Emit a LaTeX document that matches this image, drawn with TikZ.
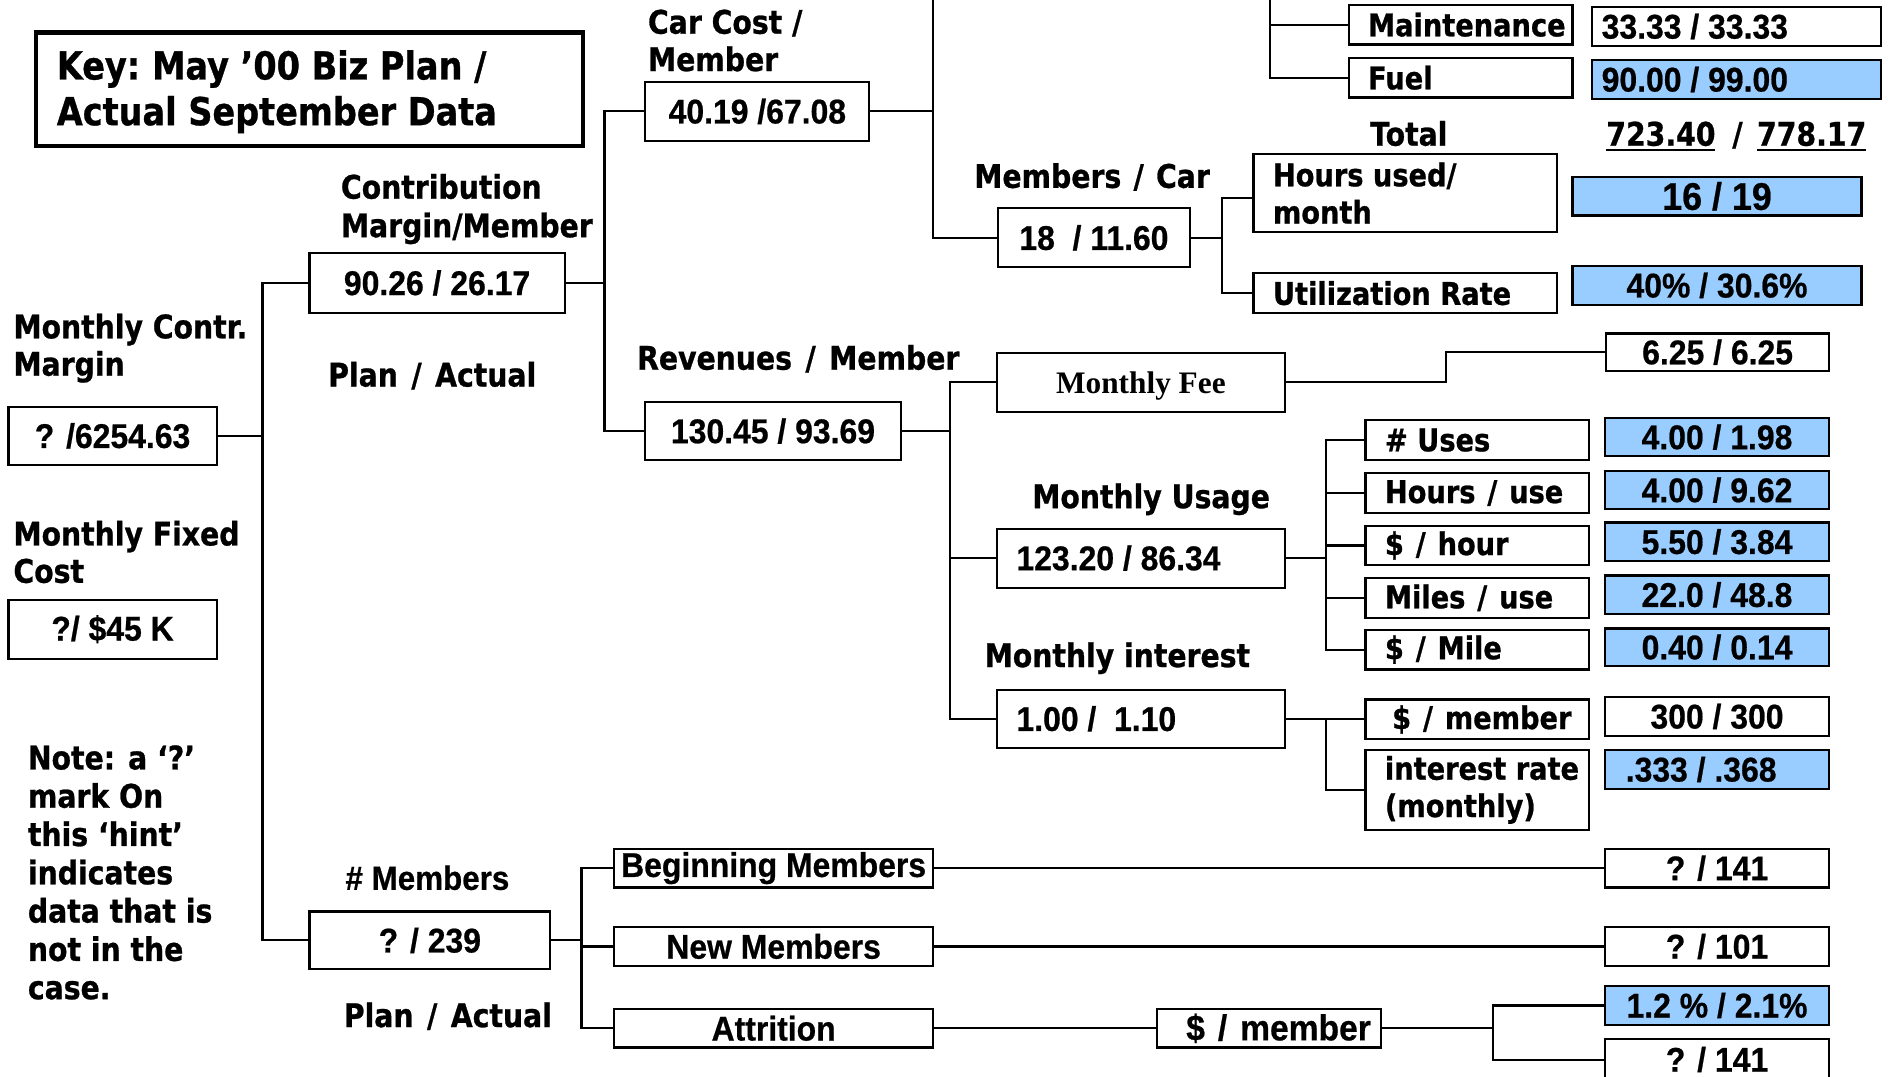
\documentclass[tikz,border=0pt]{standalone}
\usepackage{fontspec}
\newfontfamily\labf{DejaVu Sans Bold}[FakeStretch=0.87,FakeBold=0.8]
\newfontfamily\numf{Liberation Sans Bold}[FakeStretch=0.93,FakeBold=0.6]
\newfontfamily\timf{Liberation Serif Bold}
\definecolor{cellblue}{RGB}{153,204,255}
\newcommand\myul[1]{\leavevmode\vtop{\hbox{#1}\kern2pt\hrule height 1.8pt}}
% centred box: name x1 y1 x2 y2 styles text
\newcommand\cbox[7]{%
 \pgfmathsetmacro\cx{(#2+#4)/2}\pgfmathsetmacro\cy{(#3+#5)/2}%
 \pgfmathsetmacro\ww{#4-#2}\pgfmathsetmacro\hh{#5-#3}%
 \node[bx,minimum width=\ww pt,minimum height=\hh pt,#6] (#1) at (\cx,\cy) {#7};}
% left box: name x1 y1 x2 y2 pad boxstyle fontstyle text
\newcommand\lbox[9]{%
 \pgfmathsetmacro\cx{(#2+#4)/2}\pgfmathsetmacro\cy{(#3+#5)/2}%
 \pgfmathsetmacro\ww{#4-#2}\pgfmathsetmacro\hh{#5-#3}%
 \node[bx,minimum width=\ww pt,minimum height=\hh pt,#7] (#1) at (\cx,\cy) {};
 \node[anchor=west,inner sep=0pt,align=left,#8] (#1-t) at ([xshift=#6pt]#1.west) {#9};}
\begin{document}
\begin{tikzpicture}[x=1pt,y=-1pt,
  bx/.style={draw,line width=1.8pt,inner sep=0pt,outer sep=0pt,rectangle},
  keybox/.style={draw,line width=3.4pt,inner sep=0pt,rectangle},
  conn/.style={line width=1.8pt},
  blue/.style={fill=cellblue},
  lab/.style={font=\labf\fontsize{27}{31.8}\selectfont,inner sep=0pt},
  blab/.style={font=\labf\fontsize{26}{31}\selectfont},
  keyf/.style={font=\labf\fontsize{32}{38}\selectfont,inner sep=0pt},
  num/.style={font=\numf\fontsize{28.5}{32}\selectfont},
  bignum/.style={font=\numf\fontsize{32}{36}\selectfont},
  bnum/.style={font=\numf\fontsize{30}{34}\selectfont},
  tim/.style={font=\timf\fontsize{26}{30}\selectfont},
  numlab/.style={font=\numf\fontsize{28}{32}\selectfont,inner sep=0pt}
]
\fill[white] (0,0) rectangle (1568,894);
\useasboundingbox (0,0) rectangle (1568,894);

% key
\node[keybox,minimum width=454pt,minimum height=94pt] (key) at (257,74) {};
\node[keyf,anchor=base west] (key1) at (47,66) {Key:\hspace{-3pt} May ’00 Biz Plan /};
\node[keyf,anchor=base west] (key2) at (47,104) {Actual September Data};

% free labels
\node[lab,anchor=base west] (cm1) at (283,165) {Contribution};
\node[lab,anchor=base west] (cm2) at (283,197) {Margin/Member};
\node[lab,anchor=base west] (cc1) at (538,28) {Car Cost /};
\node[lab,anchor=base west] (cc2) at (538,59) {Member};
\node[lab,anchor=base west] (mc1) at (11,281) {Monthly Contr.};
\node[lab,anchor=base west] (mc2) at (11,312) {Margin};
\node[lab,anchor=base west] (mf1) at (11,453) {Monthly Fixed};
\node[lab,anchor=base west] (mf2) at (11,484) {Cost};
\node[lab,anchor=base] (pa1) at (359,321) {Plan\hspace{3pt} /\hspace{3pt} Actual};
\node[lab,anchor=base] (revl) at (663,307) {Revenues\hspace{3pt} /\hspace{3pt} Member};
\node[lab,anchor=base] (mpcl) at (907,156) {Members\hspace{2pt} /\hspace{2pt} Car};
\node[lab,anchor=base] (totl) at (1170,121) {Total};
\node[lab,anchor=base] (totv) at (1442,121) {\myul{723.40}\hspace{14pt}/\hspace{12pt}\myul{778.17}};
\node[lab,anchor=base] (usel) at (956,422) {Monthly Usage};
\node[lab,anchor=base] (intl) at (928,554) {Monthly interest};
\node[numlab,anchor=base] (nml) at (355,739) {\# Members};
\node[lab,anchor=base] (pa2) at (372,853) {Plan\hspace{3pt} /\hspace{3pt} Actual};
\foreach \t [count=\i] in {Note: a ‘?’,mark On,this ‘hint’,indicates,data that is,not in the,case.}
  \node[lab,anchor=base west] (note\i) at (23,{639+31.8*(\i-1)}) {\t};

% boxes
\cbox{mcm}{7}{338}{180}{386}{num}{? /6254.63}
\cbox{mfc}{7}{498}{180}{547}{num}{?/ \$45 K}
\cbox{cmm}{257}{210}{469}{260}{num}{90.26 / 26.17}
\cbox{carcost}{536}{68}{722}{117}{num}{40.19 /67.08}
\cbox{mpc}{829}{173}{988}{222}{num}{18\ \ / 11.60}
\lbox{maint}{1120}{4}{1306}{37}{16}{}{blab}{Maintenance}
\lbox{fuel}{1120}{48}{1306}{81}{16}{}{blab}{Fuel}
\lbox{maintv}{1322}{6}{1562}{38}{8}{}{num}{33.33 / 33.33}
\lbox{fuelv}{1322}{50}{1562}{82}{8}{blue}{num}{90.00 / 99.00}
\lbox{hours}{1041}{128}{1293}{193}{16}{}{blab}{Hours used/\\month}
\lbox{util}{1041}{227}{1293}{260}{16}{}{blab}{Utilization Rate}
\cbox{hoursv}{1306}{147}{1546}{179}{bignum,blue}{16 / 19}
\cbox{utilv}{1306}{221}{1546}{253}{num,blue}{40\% / 30.6\%}
\cbox{rev}{536}{334}{748}{382}{num}{130.45 / 93.69}
\cbox{fee}{828}{293}{1067}{342}{tim,text depth=0pt}{Monthly Fee}
\cbox{feev}{1334}{277}{1519}{308}{num}{6.25 / 6.25}
\lbox{usage}{828}{439}{1067}{488}{16}{}{num}{123.20 / 86.34}
\lbox{uses}{1134}{349}{1320}{382}{16}{}{blab}{\# Uses}
\lbox{hpu}{1134}{393}{1320}{426}{16}{}{blab}{Hours\hspace{2pt} /\hspace{2pt} use}
\lbox{dph}{1134}{437}{1320}{469}{16}{}{blab}{\$\hspace{2pt} /\hspace{2pt} hour}
\lbox{mpu}{1134}{480}{1320}{513}{16}{}{blab}{Miles\hspace{2pt} /\hspace{2pt} use}
\lbox{dpm}{1134}{523}{1320}{556}{16}{}{blab}{\$\hspace{2pt} /\hspace{2pt} Mile}
\cbox{usesv}{1333}{347}{1519}{379}{num,blue}{4.00 / 1.98}
\cbox{hpuv}{1333}{391}{1519}{423}{num,blue}{4.00 / 9.62}
\cbox{dphv}{1333}{434}{1519}{466}{num,blue}{5.50 / 3.84}
\cbox{mpuv}{1333}{478}{1519}{510}{num,blue}{22.0 / 48.8}
\cbox{dpmv}{1333}{522}{1519}{553}{num,blue}{0.40 / 0.14}
\lbox{intr}{828}{573}{1067}{621}{16}{}{num}{1.00 /\ \ 1.10}
\lbox{permem}{1134}{581}{1320}{614}{22}{}{blab}{\$\hspace{2pt} /\hspace{2pt} member}
\lbox{rate}{1134}{623}{1320}{689}{16}{}{blab}{interest rate\\(monthly)}
\cbox{permemv}{1333}{579}{1519}{611}{num}{300 / 300}
\lbox{ratev}{1333}{623}{1519}{655}{17}{blue}{num}{.333 / .368}
\cbox{nmem}{257}{757}{457}{805}{num}{? / 239}
\cbox{beg}{510}{705}{775}{737}{num}{Beginning Members}
\cbox{newm}{510}{770}{775}{802}{num}{New Members}
\cbox{attr}{510}{838}{775}{870}{num}{Attrition}
\cbox{begv}{1333}{705}{1519}{737}{num}{? / 141}
\cbox{newmv}{1333}{770}{1519}{802}{num}{? / 101}
\lbox{attrm}{961}{838}{1147}{870}{24}{}{bnum}{\$\hspace{3pt} /\hspace{3pt} member}
\cbox{attrv1}{1333}{819}{1519}{851}{num,blue}{1.2 \% / 2.1\%}
\cbox{attrv2}{1333}{863}{1519}{897}{num}{? / 141}

% spines
\coordinate (s1) at (218,0);
\coordinate (s2) at (502,0);
\coordinate (s3) at (775,-8);
\coordinate (s4) at (1015,0);
\coordinate (s5) at (1055,-8);
\coordinate (s6) at (789,0);
\coordinate (s7) at (1201,0);
\coordinate (s8) at (1101,0);
\coordinate (s9) at (483,0);
\coordinate (s10) at (1240,0);

% connectors
\draw[conn] (mcm.east) -- (mcm.east -| s1);
\draw[conn] (cmm.west) -- (cmm.west -| s1) |- (nmem.west);
\draw[conn] (cmm.east) -- (cmm.east -| s2);
\draw[conn] (carcost.west) -- (carcost.west -| s2) |- (rev.west);
\draw[conn] (carcost.east) -- (carcost.east -| s3);
\draw[conn] (s3) |- (mpc.west);
\draw[conn] (mpc.east) -- (mpc.east -| s4);
\draw[conn] ([yshift=-4pt]hours.west) -- ([yshift=-4pt]hours.west -| s4) |- (util.west);
\draw[conn] (s5) |- (fuel.west);
\draw[conn] (maint.west) -- (maint.west -| s5);
\draw[conn] (rev.east) -- (rev.east -| s6);
\draw[conn] (fee.west) -- (fee.west -| s6) |- (intr.west);
\draw[conn] (usage.west) -- (usage.west -| s6);
\draw[conn] (fee.east) -- (fee.east -| s7) |- (feev.west);
\draw[conn] (usage.east) -- (usage.east -| s8);
\draw[conn] (uses.west) -- (uses.west -| s8) |- (dpm.west);
\draw[conn] (hpu.west) -- (hpu.west -| s8);
\draw[conn] (dph.west) -- (dph.west -| s8);
\draw[conn] (mpu.west) -- (mpu.west -| s8);
\draw[conn] (intr.east) -- (intr.east -| permem.west);
\draw[conn] (intr.east -| s8) |- (rate.west);
\draw[conn] (nmem.east) -- (nmem.east -| s9);
\draw[conn] (beg.west) -- (beg.west -| s9) |- (attr.west);
\draw[conn] (newm.west) -- (newm.west -| s9);
\draw[conn] (beg.east) -- (beg.east -| begv.west);
\draw[conn] (newm.east) -- (newm.east -| newmv.west);
\draw[conn] (attr.east) -- (attr.east -| attrm.west);
\draw[conn] (attrm.east) -- (attrm.east -| s10);
\draw[conn] (attrv1.west) -- (attrv1.west -| s10) |- (attrv2.west);
\end{tikzpicture}
\end{document}
